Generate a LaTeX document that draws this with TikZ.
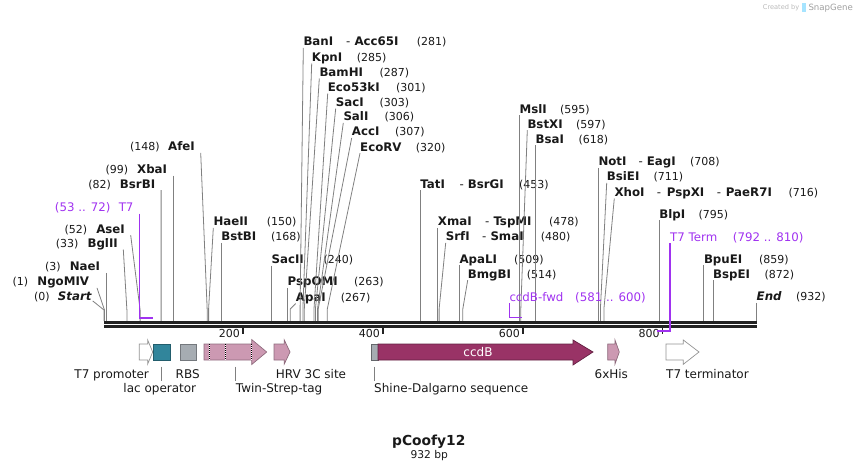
\documentclass[tikz,border=0pt]{standalone}
\usepackage{fontspec}
\setmainfont{DejaVu Sans}
\usetikzlibrary{calc}
\definecolor{featpink}{RGB}{204,153,178}
\definecolor{ccdbc}{RGB}{153,51,102}
\definecolor{lacc}{RGB}{49,133,155}
\definecolor{rbsc}{RGB}{166,172,178}
\definecolor{primc}{RGB}{160,50,240}
\definecolor{cutc}{RGB}{128,128,128}
\definecolor{seqc}{RGB}{34,34,34}
\definecolor{txtc}{RGB}{25,25,25}
\newcommand{\bn}[1]{{\fontsize{11.8}{13}\selectfont\bfseries #1}}
\begin{document}
\begin{tikzpicture}[x=1pt,y=-1pt,
 lblR/.style={inner xsep=0pt,inner ysep=2pt,text depth=0pt,anchor=base west,text=txtc,font=\fontsize{11.8}{13}\selectfont\bfseries},
 lblL/.style={inner xsep=0pt,inner ysep=2pt,text depth=0pt,anchor=base east,text=txtc,font=\fontsize{11}{13}\selectfont},
 num/.style={inner sep=0pt,anchor=base west,text=txtc,font=\fontsize{11}{13}\selectfont},
 cutl/.style={draw=cutc,line width=0.8pt},
 prim/.style={text=primc,font=\fontsize{11.8}{14}\selectfont,inner xsep=0pt,inner ysep=2pt,text depth=0pt,anchor=base west},
 primline/.style={draw=primc,line width=1.6pt},
 flbl/.style={font=\fontsize{12}{14}\selectfont,inner xsep=0pt,inner ysep=2pt,text depth=0pt,text=txtc},
 leader/.style={draw=cutc,line width=0.7pt},
 feat/.style={line width=0.7pt}
]
\useasboundingbox (0,0) rectangle (860,471);

% ---------- cut-site coordinates ----------
\coordinate (c0) at (104,321);
\coordinate (c1) at (104.5,321);
\coordinate (c3) at (105.9,321);
\coordinate (c33) at (126.9,321);
\coordinate (c52) at (140.1,321);
\coordinate (c82) at (161.1,321);
\coordinate (c99) at (173,321);
\coordinate (c148) at (207.2,321);
\coordinate (c150) at (208.6,321);
\coordinate (c168) at (221.1,321);
\coordinate (c240) at (271.4,321);
\coordinate (c263) at (287.5,321);
\coordinate (c267) at (290.3,321);
\coordinate (c281) at (300.1,321);
\coordinate (c285) at (302.9,321);
\coordinate (c287) at (304.3,321);
\coordinate (c301) at (314,321);
\coordinate (c303) at (315.4,321);
\coordinate (c306) at (317.5,321);
\coordinate (c307) at (318.2,321);
\coordinate (c320) at (327.3,321);
\coordinate (c453) at (420.2,321);
\coordinate (c478) at (437.7,321);
\coordinate (c480) at (439.1,321);
\coordinate (c509) at (459.3,321);
\coordinate (c514) at (462.8,321);
\coordinate (c595) at (519.4,321);
\coordinate (c597) at (520.8,321);
\coordinate (c618) at (535.5,321);
\coordinate (c708) at (598.3,321);
\coordinate (c711) at (600.4,321);
\coordinate (c716) at (603.9,321);
\coordinate (c795) at (659.1,321);
\coordinate (c859) at (703.8,321);
\coordinate (c872) at (712.9,321);
\coordinate (c932) at (756.5,321);

% ---------- left-hand labels ----------
\node[lblL] (Start) at (91.7,300.7) {(0)\hspace{8.3pt}\bn{\itshape Start}};
\node[lblL] (NgoMIV) at (89.3,285.7) {(1)\hspace{9.3pt}\bn{NgoMIV}};
\node[lblL] (NaeI) at (100.2,270.7) {(3)\hspace{9pt}\bn{NaeI}};
\node[lblL] (BglII) at (118,247.3) {(33)\hspace{9pt}\bn{BglII}};
\node[lblL] (AseI) at (125,233) {(52)\hspace{9pt}\bn{AseI}};
\node[lblL] (BsrBI) at (155.4,188) {(82)\hspace{9pt}\bn{BsrBI}};
\node[lblL] (XbaI) at (167.3,173.3) {(99)\hspace{9pt}\bn{XbaI}};
\node[lblL] (AfeI) at (195,150.7) {(148)\hspace{8.4pt}\bn{AfeI}};

\draw[cutl] ($(Start.south east)+(1,-2)$) -- ($(c0)+(0,-11)$) -- (c0);
\draw[cutl] ($(NgoMIV.south east)+(7.7,0)$) -- ($(c1)+(0,-11)$) -- (c1);
\draw[cutl] ($(NaeI.south east)+(5.7,0)$) -- (c3);
\draw[cutl] ($(BglII.south east)+(5.3,0)$) -- ($(c33)+(0,-11)$) -- (c33);
\draw[cutl] ($(AseI.south east)+(5.7,0)$) -- ($(c52)+(0,-11)$) -- (c52);
\draw[cutl] ($(BsrBI.south east)+(5.7,0)$) -- (c82);
\draw[cutl] ($(XbaI.south east)+(5.7,0)$) -- (c99);
\draw[cutl] ($(AfeI.south east)+(5.7,0)$) -- ($(c148)+(0,-11)$) -- (c148);

% ---------- right-hand labels ----------
\node[lblR] (HaeII) at (213.3,225.7) {HaeII};
\node[num] (nHaeII) at (266.7,225.7) {(150)};
\node[lblR] (BstBI) at (221.1,240.7) {BstBI};
\node[num] (nBstBI) at (271,240.7) {(168)};
\node[lblR] (SacII) at (271.4,263.3) {SacII};
\node[num] (nSacII) at (323.3,263.3) {(240)};
\node[lblR] (PspOMI) at (287.5,285.7) {PspOMI};
\node[num] (nPspOMI) at (354,285.7) {(263)};
\node[lblR] (ApaI) at (295.7,301.3) {ApaI};
\node[num] (nApaI) at (340.7,301.3) {(267)};

\node[lblR] (BanI) at (303.3,45.7) {\makebox[42.7pt][l]{BanI}\makebox[8.3pt][l]{\mdseries -}Acc65I};
\node[num] (nBanI) at (416.7,45.7) {(281)};
\node[lblR] (KpnI) at (311.7,61.3) {KpnI};
\node[num] (nKpnI) at (356.7,61.3) {(285)};
\node[lblR] (BamHI) at (319.3,76.3) {BamHI};
\node[num] (nBamHI) at (379.3,76.3) {(287)};
\node[lblR] (Eco53kI) at (327.7,91.3) {Eco53kI};
\node[num] (nEco53kI) at (396,91.3) {(301)};
\node[lblR] (SacI) at (335.7,106.3) {SacI};
\node[num] (nSacI) at (379.3,106.3) {(303)};
\node[lblR] (SalI) at (343.3,120.7) {SalI};
\node[num] (nSalI) at (384.3,120.7) {(306)};
\node[lblR] (AccI) at (351.7,135.7) {AccI};
\node[num] (nAccI) at (395,135.7) {(307)};
\node[lblR] (EcoRV) at (360,151) {EcoRV};
\node[num] (nEcoRV) at (415.7,151) {(320)};

\node[lblR] (TatI) at (420.2,188) {\makebox[39.1pt][l]{TatI}\makebox[8.4pt][l]{\mdseries -}BsrGI};
\node[num] (nTatI) at (519,188) {(453)};
\node[lblR] (XmaI) at (437.7,225.7) {\makebox[47.3pt][l]{XmaI}\makebox[8.3pt][l]{\mdseries -}TspMI};
\node[num] (nXmaI) at (549,225.7) {(478)};
\node[lblR] (SrfI) at (445.7,240.7) {\makebox[36.3pt][l]{SrfI}\makebox[8.3pt][l]{\mdseries -}SmaI};
\node[num] (nSrfI) at (540.7,240.7) {(480)};
\node[lblR] (ApaLI) at (459.3,263) {ApaLI};
\node[num] (nApaLI) at (514,263) {(509)};
\node[lblR] (BmgBI) at (467.7,278) {BmgBI};
\node[num] (nBmgBI) at (526.7,278) {(514)};
\node[lblR] (MslI) at (519.4,113) {MslI};
\node[num] (nMslI) at (560,113) {(595)};
\node[lblR] (BstXI) at (527.3,128) {BstXI};
\node[num] (nBstXI) at (576,128) {(597)};
\node[lblR] (BsaI) at (535.5,143) {BsaI};
\node[num] (nBsaI) at (578.3,143) {(618)};
\node[lblR] (NotI) at (598.3,165.7) {\makebox[40pt][l]{NotI}\makebox[8.4pt][l]{\mdseries -}EagI};
\node[num] (nNotI) at (690,165.7) {(708)};
\node[lblR] (BsiEI) at (606.7,180.7) {BsiEI};
\node[num] (nBsiEI) at (653.3,180.7) {(711)};
\node[lblR] (XhoI) at (614.3,196.3) {\makebox[42.4pt][l]{XhoI}\makebox[10pt][l]{\mdseries -}\makebox[50pt][l]{PspXI}\makebox[9pt][l]{\mdseries -}PaeR7I};
\node[num] (nXhoI) at (788.3,196.3) {(716)};
\node[lblR] (BlpI) at (659.1,218) {BlpI};
\node[num] (nBlpI) at (698.3,218) {(795)};
\node[lblR] (BpuEI) at (703.8,263) {BpuEI};
\node[num] (nBpuEI) at (759,263) {(859)};
\node[lblR] (BspEI) at (712.9,278) {BspEI};
\node[num] (nBspEI) at (764.3,278) {(872)};
\node[lblR] (End) at (756.5,300.7) {\itshape End};
\node[num] (nEnd) at (796,300.7) {(932)};

\foreach \n/\c in {HaeII/c150,SacII/c240,PspOMI/c263,ApaI/c267,BanI/c281,KpnI/c285,BamHI/c287,Eco53kI/c301,SacI/c303,SalI/c306,AccI/c307,EcoRV/c320,TatI/c453,XmaI/c478,SrfI/c480,ApaLI/c509,BmgBI/c514,MslI/c595,BstXI/c597,BsaI/c618,NotI/c708,BsiEI/c711,XhoI/c716,BlpI/c795,BpuEI/c859,BspEI/c872,BstBI/c168,End/c932}
  \draw[cutl] (\n.south west) -- ($(\c)+(0,-12)$) -- (\c);

% ---------- sequence line and ticks ----------
\coordinate (sL) at (104,0);
\coordinate (sR) at (756.5,0);
\draw[seqc,line width=2.8pt] ($(sL)+(0,322.5)$) -- ($(sR)+(0,322.5)$);
\draw[seqc,line width=2.6pt] ($(sL)+(0,326.4)$) -- ($(sR)+(0,326.4)$);
\foreach \x/\t in {242.7/200,382.7/400,522.7/600,662.5/800}{
  \draw[seqc,line width=1.8pt] (\x,327) -- (\x,334);
  \node[num,anchor=base east] (tick\t) at (\x-2.7,337.8) {\t};
}

% ---------- primers ----------
\node[prim,anchor=base east] (T7p) at (133.7,211.3) {(53 .. 72)\hspace{8.3pt}T7};
\coordinate (T7pEnd) at (152.7,317.7);
\draw[primline] ($(T7p.south east)+(5.6,0)$) |- (T7pEnd);

\node[prim] (fwd) at (509.3,301) {ccdB-fwd};
\node[prim,inner sep=0pt] (nfwd) at (575,301) {(581 .. 600)};
\coordinate (fwdEnd) at (521.7,317.5);
\draw[primline] (fwd.south west) |- (fwdEnd);

\node[prim] (t7t) at (670,241) {T7 Term};
\node[prim,inner sep=0pt] (nt7t) at (732.7,241) {(792 .. 810)};
\coordinate (t7tEnd) at (656.7,330.7);
\draw[primline] (t7t.south west) |- (t7tEnd);

% ---------- features ----------
% T7 promoter
\draw[feat,fill=white,draw=gray!85] (139.3,344) -- (147.7,344) -- (147.7,340) -- (152.7,352) -- (147.7,364) -- (147.7,360) -- (139.3,360) -- cycle;
% lac operator
\draw[feat,fill=lacc,draw=lacc!70!black] (153.3,344) rectangle (170.7,360);
% RBS
\draw[feat,fill=rbsc,draw=rbsc!70!black] (180.7,344) rectangle (196.7,360);
% Twin-Strep-tag
\draw[feat,fill=featpink,draw=featpink!70!black] (204,344) -- (251.7,344) -- (251.7,339.5) -- (266.7,352) -- (251.7,364.5) -- (251.7,360) -- (204,360) -- cycle;
\foreach \x in {209,225.7,251.7}{
  \draw[white,line width=0.8pt] (\x,344.4) -- (\x,359.6);
  \draw[black,line width=0.8pt,dash pattern=on 1pt off 1pt] (\x,344.4) -- (\x,359.6);
}
% HRV 3C site
\draw[feat,fill=featpink,draw=featpink!70!black] (274,344) -- (284.3,344) -- (284.3,340) -- (290,352) -- (284.3,364) -- (284.3,360) -- (274,360) -- cycle;
% Shine-Dalgarno
\draw[feat,fill=rbsc,draw=rbsc!60!black] (371,344) rectangle (378,360);
% ccdB
\draw[feat,fill=ccdbc,draw=ccdbc!65!black] (378,344) -- (573,344) -- (573,340) -- (593,352) -- (573,365) -- (573,360) -- (378,360) -- cycle;
\node[font=\fontsize{12}{14}\selectfont,text=white,inner sep=0pt] (ccdBL) at (478,351.7) {ccdB};
% 6xHis
\draw[feat,fill=featpink,draw=featpink!70!black] (607.7,344) -- (615,344) -- (615,340) -- (619.3,352) -- (615,364) -- (615,360) -- (607.7,360) -- cycle;
% T7 terminator
\draw[feat,fill=white,draw=gray!85] (666,344) -- (683.3,344) -- (683.3,340) -- (699,352) -- (683.3,364.3) -- (683.3,360) -- (666,360) -- cycle;

% ---------- feature labels ----------
\node[flbl,anchor=base] (T7promL) at (111.7,378.5) {T7 promoter};
\node[flbl,anchor=base] (RBSL) at (187.7,378.5) {RBS};
\node[flbl,anchor=base west] (HRVL) at (275.7,378.5) {HRV 3C site};
\node[flbl,anchor=base] (HisL) at (611.3,378.5) {6xHis};
\node[flbl,anchor=base west] (T7termL) at (666,378.5) {T7 terminator};
\node[flbl,anchor=base] (lacL) at (159.8,392.8) {lac operator};
\node[flbl,anchor=base west] (twinL) at (235.7,392.8) {Twin-Strep-tag};
\node[flbl,anchor=base west] (sdL) at (374,392.8) {Shine-Dalgarno sequence};

\coordinate (lacF) at (161.3,366.5);
\coordinate (twinF) at (235.7,366.5);
\coordinate (sdF) at (374.3,366.5);
\draw[leader] (lacF) -- (lacF |- lacL.north);
\draw[leader] (twinF) -- (twinL.north west);
\draw[leader] (sdF) -- (sdF |- sdL.north);

% ---------- title ----------
\node[font=\fontsize{13.8}{16}\selectfont\bfseries,anchor=base,text=txtc,inner sep=0pt] (title) at (428.8,445.3) {pCoofy12};
\node[font=\fontsize{10.7}{12}\selectfont,anchor=base,text=txtc,inner sep=0pt] (bp) at (429.2,458.2) {932 bp};

% ---------- watermark ----------
\node[font=\fontsize{6.6}{8}\selectfont,anchor=base west,text=gray!55,inner sep=0pt] (wm1) at (762.7,9.5) {Created by};
\fill[blue!30!cyan!35] (801.5,3) rectangle (805.5,12);
\node[font=\fontsize{8.6}{10}\selectfont,anchor=base west,text=gray!75,inner sep=0pt] (wm2) at (808.3,10.5) {SnapGene};
\end{tikzpicture}
\end{document}
